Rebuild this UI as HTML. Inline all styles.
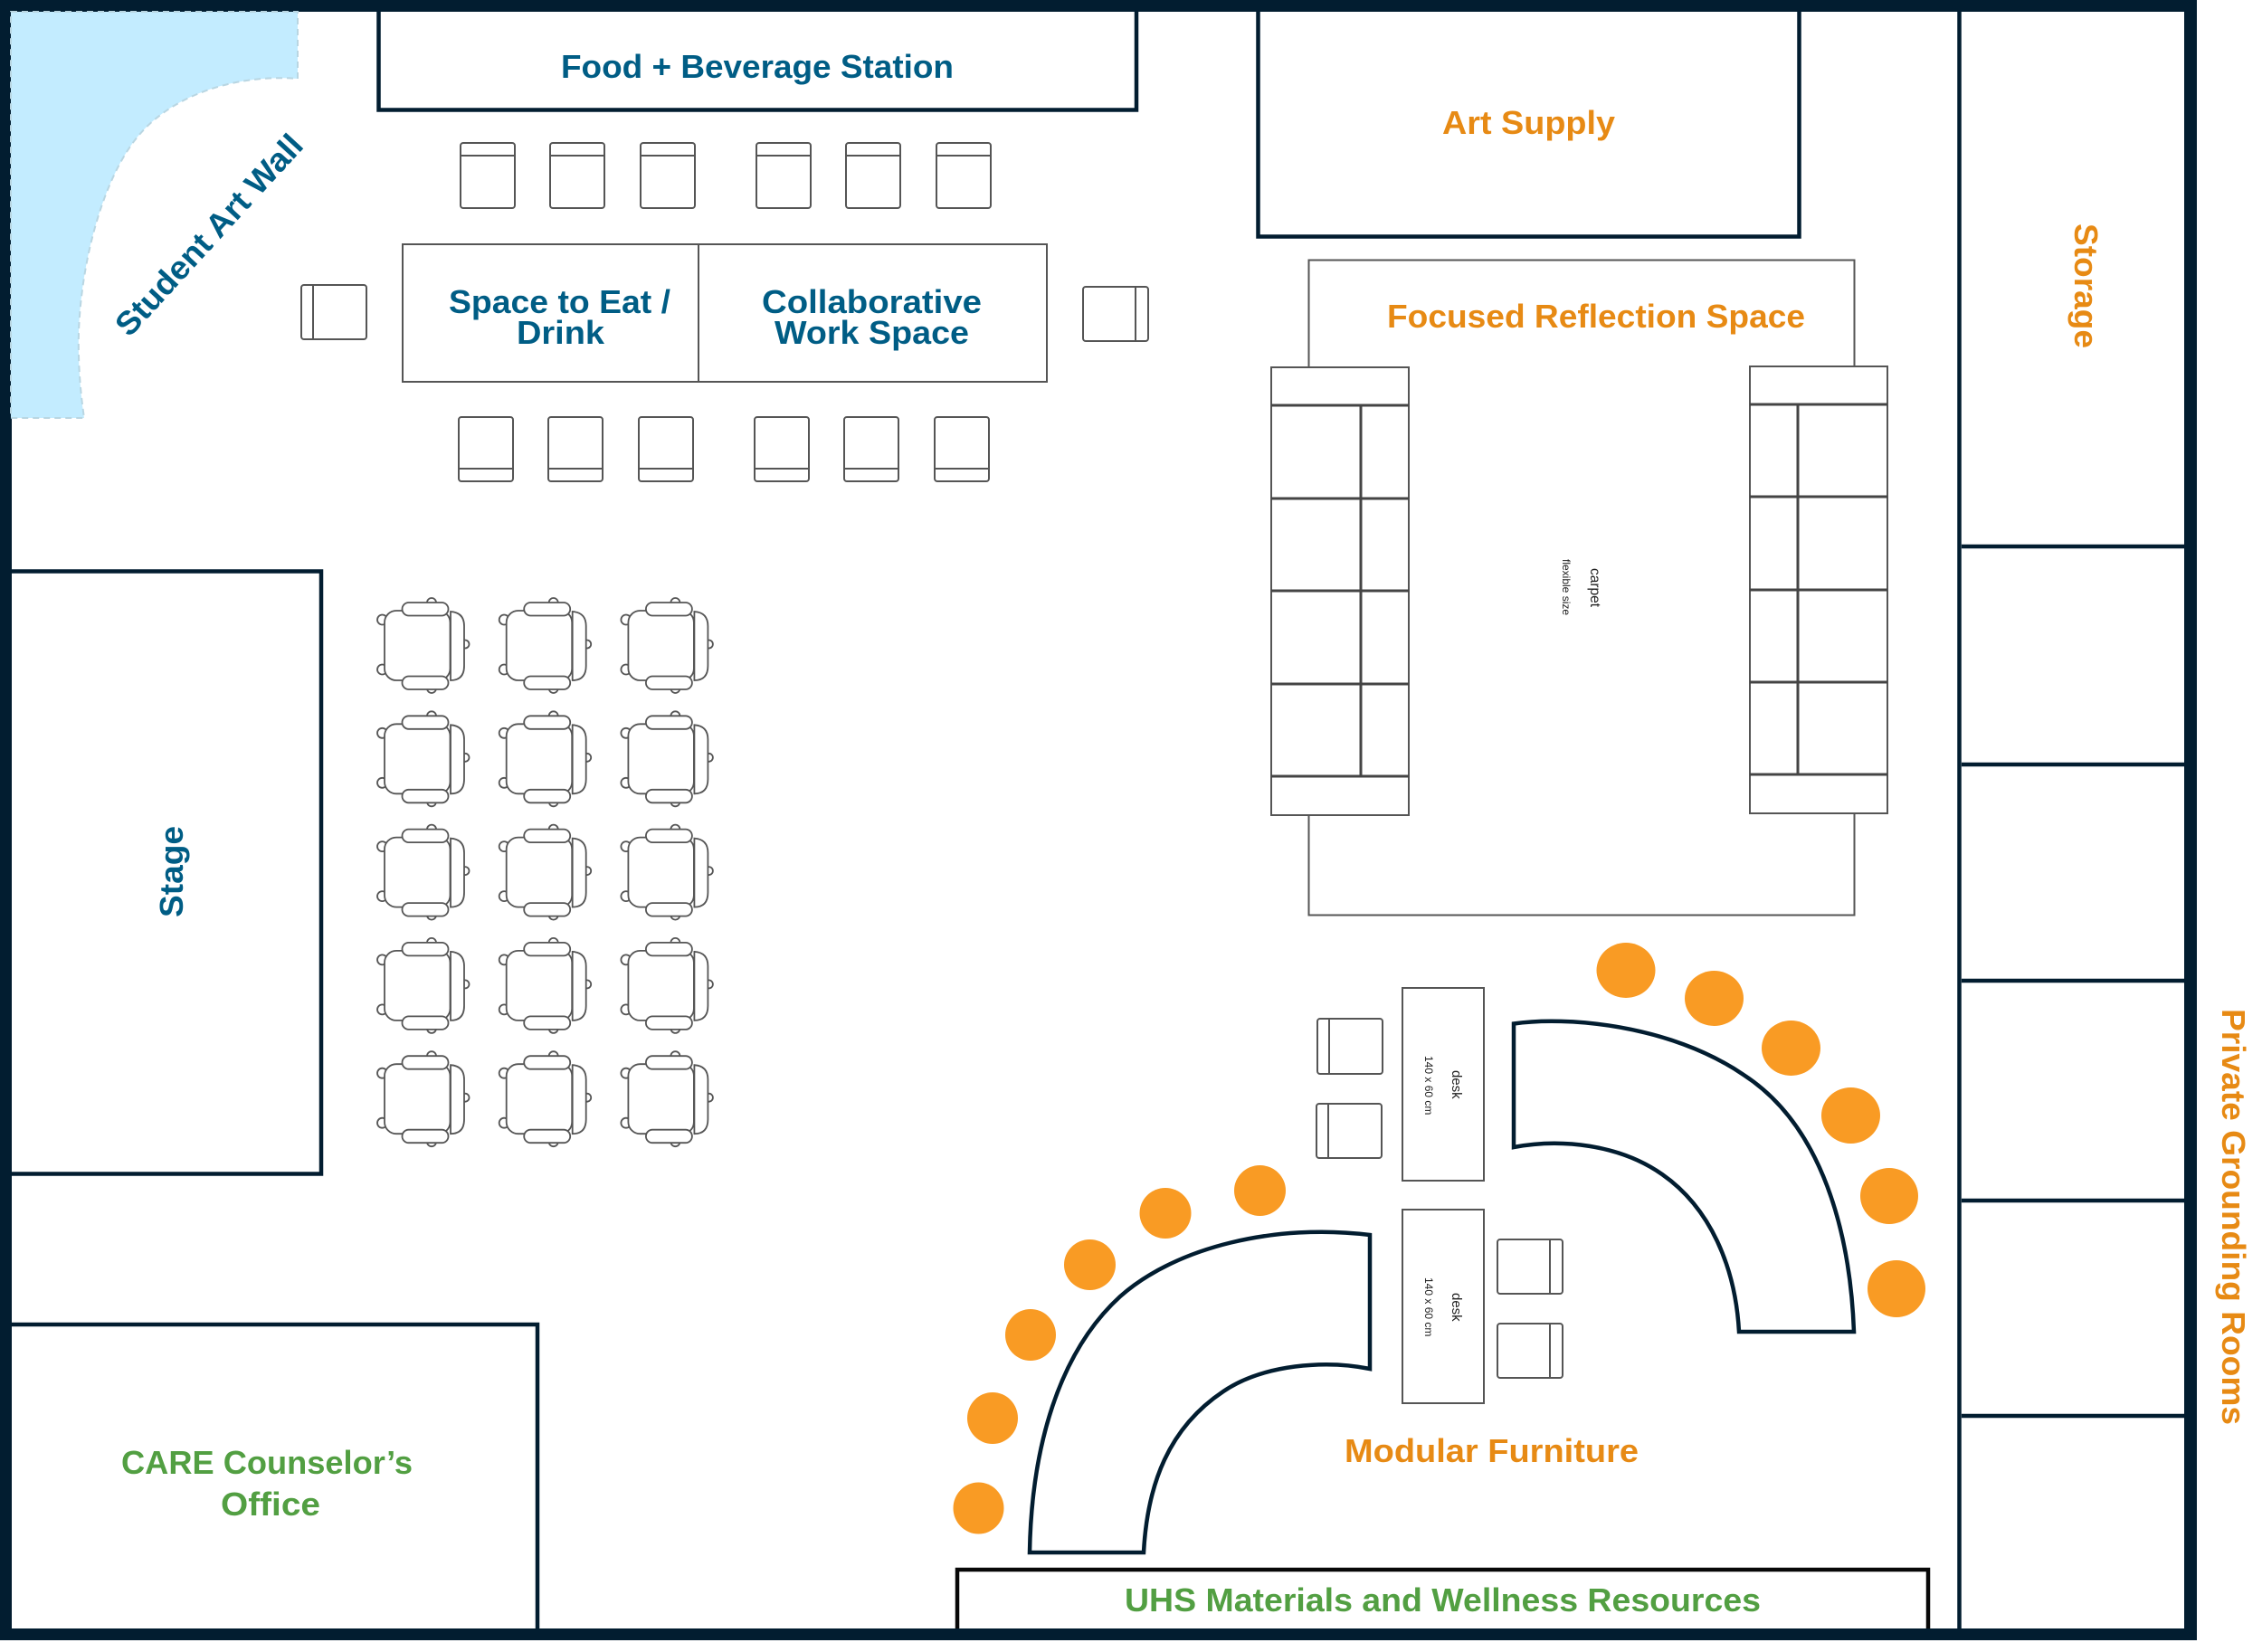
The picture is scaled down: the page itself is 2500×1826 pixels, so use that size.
<!DOCTYPE html>
<html><head><meta charset="utf-8"><style>
html,body{margin:0;padding:0;background:#fff}
svg{display:block}
text{font-family:"Liberation Sans",sans-serif;font-weight:700}
.b{fill:#005d85}.o{fill:#e78a14}.g{fill:#529f42}
.t{font-size:36px}
.k{font-weight:400;fill:#222}
.w{fill:#fff;stroke:#555;stroke-width:2}
.a{fill:#fff;stroke:#555;stroke-width:1.800}
.d{fill:none;stroke:#021d30}
.c{fill:#f99b24}
</style></head><body>
<svg width="2500" height="1826" viewBox="0 0 2500 1826" xmlns="http://www.w3.org/2000/svg">
<defs>
<g id="arm" class="a">
<circle cx="477" cy="666" r="5"/><circle cx="477" cy="761" r="5"/><circle cx="514" cy="712" r="4.500"/><circle cx="422.500" cy="685" r="5.500"/><circle cx="422.500" cy="740" r="5.500"/>
<rect x="425" y="675" width="72.500" height="77" rx="13"/>
<path d="M498,676Q513,677 513,692V736Q513,752 498,752Z"/>
<rect x="444.500" y="666" width="51" height="14.500" rx="7.200"/>
<rect x="444.500" y="747.500" width="51" height="14.500" rx="7.200"/>
</g>
<g id="cu"><rect class="w" width="60" height="72" rx="3"/><path class="w" d="M0,14H60"/></g>
<g id="cd"><rect class="w" width="60" height="71" rx="3"/><path class="w" d="M0,57H60"/></g>
</defs>
<rect width="2500" height="1826" fill="#fff"/>

<!-- frame and rooms -->
<g class="d" stroke-width="4.500">
<path d="M418.500,12V121.500H1256V12"/>
<path d="M1390.500,12V261.500H1988.500V12"/>
<path d="M12,631.500H355V1297.500H12"/>
<path d="M12,1464H594V1805"/>
<path d="M2165.500,12V1805"/>
<path d="M2168,604H2416M2168,845H2416M2168,1084H2416M2168,1327H2416M2168,1565H2416" stroke-width="4.500"/>
</g>
<path d="M1058,1805V1735H2131V1805" fill="none" stroke="#080808" stroke-width="4.500"/>
<path d="M0,0H2428V1813H0ZM13,13V1800H2414V13Z" fill="#021d30" fill-rule="evenodd"/>

<!-- art wall -->
<path d="M12,13H329V87C270,82 195,100 153,150C115,195 90,285 87,367C86,400 89,435 93,462H12Z" fill="#c3ecff" stroke="#b9d6e2" stroke-width="2" stroke-dasharray="7 5"/>

<!-- table -->
<rect class="w" x="445" y="270" width="712" height="152"/><path class="w" d="M772,270V422"/>
<!-- focused -->
<rect class="w" x="1446.500" y="287.500" width="603" height="724"/>

<!-- chairs top -->
<use href="#cu" x="509" y="158"/><use href="#cu" x="608" y="158"/><use href="#cu" x="708" y="158"/><use href="#cu" x="836" y="158"/><use href="#cu" x="935" y="158"/><use href="#cu" x="1035" y="158"/>
<use href="#cd" x="507" y="461"/><use href="#cd" x="606" y="461"/><use href="#cd" x="706" y="461"/><use href="#cd" x="834" y="461"/><use href="#cd" x="933" y="461"/><use href="#cd" x="1033" y="461"/>
<g class="w">
<rect x="333" y="315" width="72" height="60" rx="3"/><path d="M346,315V375"/>
<rect x="1197" y="317" width="72" height="60" rx="3"/><path d="M1255,317V377"/>
<rect x="1456" y="1126" width="72" height="61" rx="3"/><path d="M1469,1126V1187"/>
<rect x="1455" y="1220" width="72" height="60" rx="3"/><path d="M1468,1220V1280"/>
<rect x="1655" y="1370" width="72" height="60" rx="3"/><path d="M1713,1370V1430"/>
<rect x="1655" y="1463" width="72" height="60" rx="3"/><path d="M1713,1463V1523"/>
<rect x="1550" y="1092" width="90" height="213"/>
<rect x="1550" y="1337" width="90" height="214"/>
</g>

<!-- sofas -->
<g class="w">
<rect x="1405" y="406" width="152" height="495"/>
<rect x="1934" y="405" width="152" height="494"/>
</g>
<g fill="none" stroke="#444" stroke-width="3">
<path d="M1405,448H1557M1405,551H1557M1405,653H1557M1405,756H1557M1405,858H1557M1504,448V858"/>
<path d="M1934,447H2086M1934,549H2086M1934,652H2086M1934,754H2086M1934,856H2086M1987,447V856"/>
</g>

<!-- armchairs -->
<use href="#arm"/><use href="#arm" x="134.700"/><use href="#arm" x="269.400"/>
<use href="#arm" y="125.300"/><use href="#arm" x="134.700" y="125.300"/><use href="#arm" x="269.400" y="125.300"/>
<use href="#arm" y="250.600"/><use href="#arm" x="134.700" y="250.600"/><use href="#arm" x="269.400" y="250.600"/>
<use href="#arm" y="375.900"/><use href="#arm" x="134.700" y="375.900"/><use href="#arm" x="269.400" y="375.900"/>
<use href="#arm" y="501.200"/><use href="#arm" x="134.700" y="501.200"/><use href="#arm" x="269.400" y="501.200"/>

<!-- curved modular -->
<g class="d" stroke-width="4.500">
<path fill="#fff" d="M1673,1131.500C1730,1123 1845,1132 1927,1188C2015,1245 2045,1365 2049,1472H1922C1918,1400 1890,1335 1837,1298C1790,1265 1725,1258 1673,1268Z"/>
<path fill="#fff" d="M1138,1716C1140,1600 1170,1495 1238,1433C1300,1378 1410,1352 1514,1365V1513C1465,1503 1396,1508 1352,1538C1292,1578 1268,1640 1264,1716Z"/>
</g>

<!-- stools -->
<g class="c">
<ellipse cx="1797" cy="1072.500" rx="32.500" ry="30.500"/><ellipse cx="1894.500" cy="1103.500" rx="32.500" ry="30.500"/><ellipse cx="1979.500" cy="1158.500" rx="32.500" ry="30.500"/><ellipse cx="2045.500" cy="1233" rx="32.500" ry="31"/><ellipse cx="2088" cy="1322" rx="32" ry="31"/><ellipse cx="2096" cy="1424.500" rx="32" ry="31.500"/>
<ellipse cx="1392.500" cy="1316" rx="28.500" ry="28"/><ellipse cx="1288" cy="1341" rx="28.500" ry="28"/><ellipse cx="1204.500" cy="1398" rx="28.500" ry="28"/><ellipse cx="1139" cy="1475.500" rx="28" ry="28.500"/><ellipse cx="1097" cy="1567.500" rx="28" ry="28.500"/><ellipse cx="1081.500" cy="1667" rx="28" ry="28.500"/>
</g>

<!-- labels -->
<g class="t">
<text class="b" x="620" y="86" textLength="434" lengthAdjust="spacingAndGlyphs">Food + Beverage Station</text>
<text class="b" x="496" y="346" textLength="245" lengthAdjust="spacingAndGlyphs">Space to Eat /</text>
<text class="b" x="571" y="380" textLength="97" lengthAdjust="spacingAndGlyphs">Drink</text>
<text class="b" x="842" y="346" textLength="243" lengthAdjust="spacingAndGlyphs">Collaborative</text>
<text class="b" x="856" y="380" textLength="215" lengthAdjust="spacingAndGlyphs">Work Space</text>
<text class="b" text-anchor="middle" transform="translate(240 268) rotate(-47.500)" textLength="287" lengthAdjust="spacingAndGlyphs">Student Art Wall</text>
<text class="b" transform="translate(202 1014) rotate(-90)" textLength="101" lengthAdjust="spacingAndGlyphs">Stage</text>
<text class="o" x="1594" y="148" textLength="191" lengthAdjust="spacingAndGlyphs">Art Supply</text>
<text class="o" x="1533" y="362" textLength="462" lengthAdjust="spacingAndGlyphs">Focused Reflection Space</text>
<text class="o" transform="translate(2293 247) rotate(90)" textLength="138" lengthAdjust="spacingAndGlyphs">Storage</text>
<text class="o" transform="translate(2456 1115) rotate(90)" textLength="460" lengthAdjust="spacingAndGlyphs">Private Grounding  Rooms</text>
<text class="o" x="1486" y="1616" textLength="325" lengthAdjust="spacingAndGlyphs">Modular Furniture</text>
<text class="g" x="134" y="1629" textLength="322" lengthAdjust="spacingAndGlyphs">CARE Counselor’s</text>
<text class="g" x="244" y="1675" textLength="110" lengthAdjust="spacingAndGlyphs">Office</text>
<text class="g" x="1243" y="1781" textLength="703" lengthAdjust="spacingAndGlyphs">UHS Materials and Wellness Resources</text>
</g>
<text class="k" font-size="15.500" transform="translate(1758 628) rotate(90)">carpet</text>
<text class="k" font-size="12" transform="translate(1727 618) rotate(90)">flexible size</text>
<text class="k" font-size="15" transform="translate(1605 1183) rotate(90)">desk</text>
<text class="k" font-size="12" transform="translate(1575 1167) rotate(90)">140 x 60 cm</text>
<text class="k" font-size="15" transform="translate(1605 1429) rotate(90)">desk</text>
<text class="k" font-size="12" transform="translate(1575 1412) rotate(90)">140 x 60 cm</text>
</svg>
</body></html>
